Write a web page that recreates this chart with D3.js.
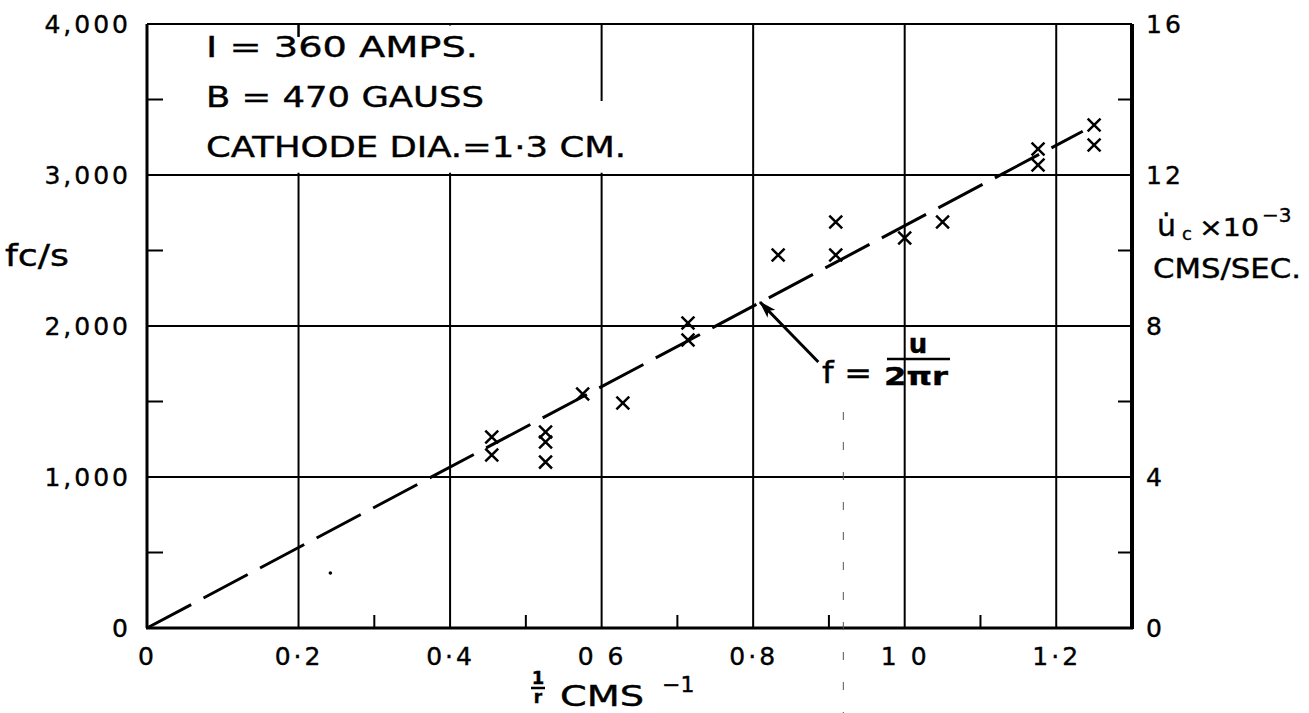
<!DOCTYPE html>
<html>
<head>
<meta charset="utf-8">
<script src="https://cdn.jsdelivr.net/npm/d3@7"></script>
<style>
  body { margin: 0; background: #fff; }
  svg { display: block; }
  text { font-family: "DejaVu Sans", sans-serif; fill: #000; }
</style>
</head>
<body>
<div id="chart"></div>
<script>
// Tick values and labels
const xTickValues = [0, 0.2, 0.4, 0.6, 0.8, 1.0, 1.2];
const xTickLabels = ["0", "0·2", "0·4", "0 6", "0·8", "1 0", "1·2"];
const xMinorTicks = [0.3, 0.5, 0.7, 0.9, 1.1];
const yTickValues = [0, 1000, 2000, 3000, 4000];
const yTickLabels = ["0", "1,000", "2,000", "3,000", "4,000"];
const yMinorTicks = [500, 1500, 2500, 3500];
const uTickValues = [0, 4, 8, 12, 16];
const uMinorTicks = [2, 6, 10, 14];

// Measured points: 1/r (cm^-1) against frequency (c/s)
const invRadius = [0.455, 0.455, 0.526, 0.526, 0.526, 0.575, 0.628, 0.714, 0.714,
                   0.833, 0.909, 0.909, 1.0, 1.05, 1.176, 1.176, 1.25, 1.25];
const freq = [1265, 1146, 1298, 1232, 1099, 1550, 1490, 2020, 1907,
              2470, 2689, 2470, 2583, 2689, 3172, 3066, 3331, 3199];

// Dashed theory line f = u / 2πr
const fitX = [0, 1.235];
const fitY = [0, 3290];

const width = 1309, height = 713;
const margin = {top: 24, right: 177, bottom: 85, left: 147};

const svg = d3.select('#chart').append('svg')
    .attr('width', width)
    .attr('height', height);

svg.append('rect').attr('width', width).attr('height', height).attr('fill', '#fff');

const xScale = d3.scaleLinear().domain([0, 1.3]).range([margin.left, width - margin.right]);
const yScale = d3.scaleLinear().domain([0, 4000]).range([height - margin.bottom, margin.top]);
const uScale = d3.scaleLinear().domain([0, 16]).range([height - margin.bottom, margin.top]);

const x0 = xScale.range()[0], x1 = xScale.range()[1];
const y0 = yScale.range()[0], y1 = yScale.range()[1];

// Vertical grid lines
svg.append('g')
    .selectAll('line')
    .data(xTickValues.filter(d => d > 0))
    .join('line')
    .attr('x1', d => xScale(d)).attr('x2', d => xScale(d))
    .attr('y1', y0).attr('y2', y1)
    .attr('stroke', '#000').attr('stroke-width', 2);

// White panels behind the note text, the grid breaks there in the original
const masks = [
    {x: [0.08, 0.52], y: [3015, 3915]},
    {x: [0.3, 0.52], y: [3900, 3990]},
    {x: [0.52, 0.66], y: [3015, 3490]}
];
svg.append('g')
    .selectAll('rect')
    .data(masks)
    .join('rect')
    .attr('x', d => xScale(d.x[0]))
    .attr('y', d => yScale(d.y[1]))
    .attr('width', d => xScale(d.x[1]) - xScale(d.x[0]))
    .attr('height', d => yScale(d.y[0]) - yScale(d.y[1]))
    .attr('fill', '#fff');

// Horizontal grid lines
svg.append('g')
    .selectAll('line')
    .data(yTickValues.filter(d => d > 0 && d < 4000))
    .join('line')
    .attr('x1', x0).attr('x2', x1)
    .attr('y1', d => yScale(d)).attr('y2', d => yScale(d))
    .attr('stroke', '#000').attr('stroke-width', 2);

// Frame
svg.append('line').attr('x1', x0).attr('x2', x1).attr('y1', y1).attr('y2', y1)
    .attr('stroke', '#000').attr('stroke-width', 2);
svg.append('line').attr('x1', x0 - 1).attr('x2', x1 + 1).attr('y1', y0).attr('y2', y0)
    .attr('stroke', '#000').attr('stroke-width', 3);
svg.append('line').attr('x1', x0).attr('x2', x0).attr('y1', y1).attr('y2', y0)
    .attr('stroke', '#000').attr('stroke-width', 3);
svg.append('line').attr('x1', x1).attr('x2', x1).attr('y1', y1).attr('y2', y0 + 1)
    .attr('stroke', '#000').attr('stroke-width', 4);

// Minor ticks pointing into the plot
const minor = svg.append('g').attr('stroke', '#000').attr('stroke-width', 2);
minor.selectAll('.xm').data(xMinorTicks).join('line').attr('class', 'xm')
    .attr('x1', d => xScale(d)).attr('x2', d => xScale(d))
    .attr('y1', y0).attr('y2', y0 - 13);
minor.selectAll('.ym').data(yMinorTicks).join('line').attr('class', 'ym')
    .attr('x1', x0).attr('x2', x0 + 16)
    .attr('y1', d => yScale(d)).attr('y2', d => yScale(d));
minor.selectAll('.um').data(uMinorTicks).join('line').attr('class', 'um')
    .attr('x1', x1).attr('x2', x1 - 14)
    .attr('y1', d => uScale(d)).attr('y2', d => uScale(d));
minor.append('line')
    .attr('x1', xScale(0.2)).attr('x2', xScale(0.2))
    .attr('y1', y1).attr('y2', y1 + 13);

// Axes (labels only)
const xAxis = d3.axisBottom(xScale)
    .tickValues(xTickValues)
    .tickSize(0)
    .tickPadding(19)
    .tickFormat((d, i) => xTickLabels[i]);
const yAxis = d3.axisLeft(yScale)
    .tickValues(yTickValues)
    .tickSize(0)
    .tickPadding(16)
    .tickFormat((d, i) => yTickLabels[i]);
const uAxis = d3.axisRight(uScale)
    .tickValues(uTickValues)
    .tickSize(0)
    .tickPadding(14);

function styleAxis(g) {
    g.select('.domain').remove();
    g.attr('font-family', null).attr('font-size', null);
    g.selectAll('text')
        .style('font-size', '25px')
        .style('letter-spacing', '3px')
        .style('stroke', '#000')
        .style('stroke-width', '0.4px');
}

svg.append('g').attr('transform', `translate(0,${y0})`).call(xAxis).call(styleAxis);
svg.append('g').attr('transform', `translate(${x0},0)`).call(yAxis).call(styleAxis);
svg.append('g').attr('transform', `translate(${x1},0)`).call(uAxis).call(styleAxis);

// Dashed theory line
const fit = fitX.map((d, i) => ({x: d, y: fitY[i]}));
svg.append('path')
    .datum(fit)
    .attr('d', d3.line().x(d => xScale(d.x)).y(d => yScale(d.y)))
    .attr('fill', 'none')
    .attr('stroke', '#000')
    .attr('stroke-width', 3)
    .attr('stroke-dasharray', '50,14');

// Measured points
const points = invRadius.map((d, i) => ({x: d, y: freq[i]}));
svg.append('g')
    .selectAll('path')
    .data(points)
    .join('path')
    .attr('transform', d => `translate(${xScale(d.x)},${yScale(d.y)})`)
    .attr('d', d3.symbol().type(d3.symbolX).size(110))
    .attr('fill', 'none')
    .attr('stroke', '#000')
    .attr('stroke-width', 2.5);

// Arrow to the line with the formula
svg.append('defs').append('marker')
    .attr('id', 'head')
    .attr('markerUnits', 'userSpaceOnUse')
    .attr('viewBox', '0 0 16 10')
    .attr('refX', '15')
    .attr('refY', '5')
    .attr('markerWidth', '18')
    .attr('markerHeight', '11')
    .attr('orient', 'auto')
    .append('path')
    .attr('d', 'M0,0 L16,5 L0,10 L4,5 Z')
    .attr('fill', '#000');

svg.append('line')
    .attr('x1', xScale(0.886)).attr('y1', yScale(1762))
    .attr('x2', xScale(0.809)).attr('y2', yScale(2159))
    .attr('stroke', '#000').attr('stroke-width', 3)
    .attr('marker-end', 'url(#head)');

const formula = svg.append('g').style('stroke', '#000').style('stroke-width', '0.4px');
formula.append('text').attr('x', 822).attr('y', 383)
    .attr('textLength', 50).attr('lengthAdjust', 'spacingAndGlyphs')
    .style('font-size', '30px').text('f =');
formula.append('text').attr('x', 918).attr('y', 353).attr('text-anchor', 'middle')
    .style('font-size', '26px').style('font-weight', 'bold').text('u');
formula.append('line').attr('x1', 887).attr('x2', 950).attr('y1', 359).attr('y2', 359)
    .attr('stroke', '#000').attr('stroke-width', 2.5);
formula.append('text').attr('x', 884).attr('y', 385)
    .attr('textLength', 64).attr('lengthAdjust', 'spacingAndGlyphs')
    .style('font-size', '24px').style('font-weight', 'bold').text('2πr');

// Note block
const notes = ["I = 360 AMPS.", "B = 470 GAUSS", "CATHODE DIA.=1·3 CM."];
const noteBase = [57, 107, 157];
const noteLen = [272, 278, 420];
svg.append('g')
    .style('stroke', '#000').style('stroke-width', '0.4px')
    .selectAll('text')
    .data(notes)
    .join('text')
    .attr('x', 206)
    .attr('y', (d, i) => noteBase[i])
    .attr('textLength', (d, i) => noteLen[i])
    .attr('lengthAdjust', 'spacingAndGlyphs')
    .style('font-size', '29px')
    .text(d => d);

// Axis titles
svg.append('text').attr('x', 5).attr('y', 266)
    .attr('textLength', 64).attr('lengthAdjust', 'spacingAndGlyphs')
    .style('font-size', '30px').style('stroke', '#000').style('stroke-width', '0.4px')
    .text('fc/s');

const xt = svg.append('g').style('stroke', '#000').style('stroke-width', '0.4px');
xt.append('text').attr('x', 538).attr('y', 684).attr('text-anchor', 'middle')
    .style('font-size', '18px').style('font-weight', 'bold').text('1');
xt.append('line').attr('x1', 531).attr('x2', 545).attr('y1', 688).attr('y2', 688)
    .attr('stroke', '#000').attr('stroke-width', 2.5);
xt.append('text').attr('x', 538).attr('y', 703).attr('text-anchor', 'middle')
    .style('font-size', '17px').style('font-weight', 'bold').text('r');
xt.append('text').attr('x', 560).attr('y', 706)
    .attr('textLength', 84).attr('lengthAdjust', 'spacingAndGlyphs')
    .style('font-size', '28px').text('CMS');
xt.append('text').attr('x', 662).attr('y', 692)
    .style('font-size', '22px').text('−1');

const ut = svg.append('g').style('stroke', '#000').style('stroke-width', '0.4px');
ut.append('text').attr('x', 1157).attr('y', 236)
    .style('font-size', '30px').text('u̇');
ut.append('text').attr('x', 1182).attr('y', 240)
    .style('font-size', '18px').text('c');
ut.append('text').attr('x', 1199).attr('y', 236)
    .attr('textLength', 60).attr('lengthAdjust', 'spacingAndGlyphs')
    .style('font-size', '25px').text('×10');
ut.append('text').attr('x', 1262).attr('y', 222)
    .style('font-size', '20px').text('−3');
ut.append('text').attr('x', 1153).attr('y', 278)
    .attr('textLength', 148).attr('lengthAdjust', 'spacingAndGlyphs')
    .style('font-size', '26px').text('CMS/SEC.');

// Scanning marks left on the original sheet
svg.append('line')
    .attr('x1', xScale(0.919)).attr('x2', xScale(0.919))
    .attr('y1', 412).attr('y2', height)
    .attr('stroke', '#555').attr('stroke-width', 1)
    .attr('stroke-dasharray', '8,22');
svg.append('circle')
    .attr('cx', xScale(0.242)).attr('cy', yScale(364))
    .attr('r', 1.8).attr('fill', '#000');
</script>
</body>
</html>
